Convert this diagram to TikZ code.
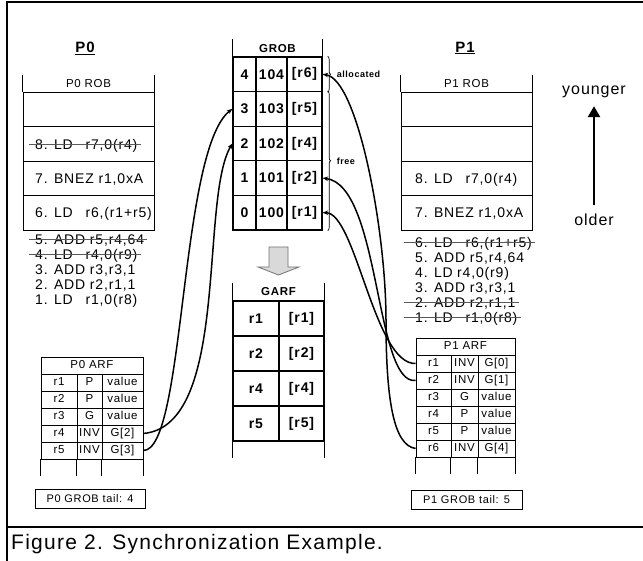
\documentclass[tikz,border=0pt]{standalone}
\usepackage{fontspec}
\setmainfont{Liberation Sans}[LetterSpace=6]
\usetikzlibrary{arrows.meta,decorations.pathreplacing}

\newcommand{\opc}[3][3.6em]{\makebox[#1][l]{#2}#3}

\begin{document}
\begin{tikzpicture}[x=1pt,y=-1pt,>={Stealth[length=5.5pt,width=4.5pt]},
    robrow/.style={draw,line width=0.9pt,minimum width=131pt,minimum height=34.5pt,inner sep=0pt},
    instr/.style={anchor=west,inner sep=0pt,text height=10pt,text depth=0pt,font=\fontsize{14}{16}\selectfont},
    cut/.style={black!65,line width=1pt},
    hdr/.style={inner sep=0pt,font=\fontsize{11.5}{13}\selectfont},
    arf/.style={draw,line width=0.8pt,minimum height=17pt,inner sep=0pt,text height=8pt,text depth=2.2pt,font=\fontsize{11.5}{13}\selectfont},
    gcell/.style={draw,line width=1.3pt,minimum height=34.6pt,inner sep=0pt,font=\bfseries\fontsize{14}{16}\selectfont},
    acell/.style={draw,line width=1.3pt,minimum height=35pt,inner sep=0pt,font=\bfseries\fontsize{14}{16}\selectfont},
    link/.style={->,line width=1.5pt},
    brace/.style={decorate,decoration={brace,amplitude=3pt},line width=0.7pt},
    note/.style={anchor=west,inner sep=0pt,font=\bfseries\fontsize{9}{10}\selectfont},
    tailbox/.style={draw,line width=0.8pt,minimum height=19pt,font=\fontsize{11}{12}\selectfont},
    title/.style={inner sep=0pt,font=\bfseries\fontsize{15}{17}\selectfont},
    age/.style={inner sep=0pt,font=\fontsize{16}{18}\selectfont}]

  \useasboundingbox (0,0) rectangle (643,561);
  % frame and caption
  \draw[line width=2.5pt] (643,2) -- (7,2) -- (7,561);
  \draw[line width=2.5pt] (7,527) -- (643,527);
  \node[anchor=west,inner sep=0pt,font=\fontsize{21}{24}\selectfont] (caption) at (11,544) {Figure 2. Synchronization Example.};

  % P0 side
  \node[title] (p0) at (85,48) {\underline{P0}};
  \foreach \k in {0,...,3}
    \node[robrow] (p0rob\k) at (88.5,{109.25+34.5*\k}) {};
  \draw[line width=0.9pt] (p0rob0.north west) -- +(0,-17) (p0rob0.north east) -- +(0,-17);
  \node[hdr] (p0robh) at (88.5,84) {P0 ROB};

  \node[instr] (p0i8) at (35,144.5) {\opc{8. LD}{r7,0(r4)}};
  \node[instr] (p0i7) at (35,179) {7. BNEZ r1,0xA};
  \node[instr] (p0i6) at (35,213) {\opc{6. LD}{r6,(r1+r5)}};
  \node[instr] (p0i5) at (35,240) {5. ADD r5,r4,64};
  \node[instr] (p0i4) at (35,255) {\opc{4. LD}{r4,0(r9)}};
  \node[instr] (p0i3) at (35,270) {3. ADD r3,r3,1};
  \node[instr] (p0i2) at (35,285) {2. ADD r2,r1,1};
  \node[instr] (p0i1) at (35,300) {\opc{1. LD}{r1,0(r8)}};
  \foreach \n in {p0i8,p0i5,p0i4}
    \draw[cut] ([xshift=-6pt]\n.west) -- ([xshift=3pt]\n.east);

  \node[arf,minimum width=102pt] (p0arf) at (92,365.5) {P0 ARF};
  \foreach \i/\s/\v in {1/P/value,2/P/value,3/G/value,4/INV/G[2],5/INV/G[3]} {
    \node[arf,minimum width=36pt] (p0r\i) at (59,{365.5+17*\i}) {r\i};
    \node[arf,minimum width=25pt] (p0s\i) at (89.5,{365.5+17*\i}) {\s};
    \node[arf,minimum width=41pt] (p0v\i) at (122.5,{365.5+17*\i}) {\v};
  }
  \draw[line width=0.8pt] (p0r5.south west) -- +(0,17) (p0s5.south west) -- +(0,17)
    (p0v5.south west) -- +(0,17) (p0v5.south east) -- +(0,17);
  \node[tailbox,minimum width=110pt] (p0tail) at (90,499) {P0 GROB tail: 4};

  % GROB
  \foreach \i/\r in {0/r1,1/r2,2/r4,3/r5,4/r6} {
    \node[gcell,minimum width=23pt] (gn\i) at (244.5,{212.7-34.6*\i}) {\i};
    \node[gcell,minimum width=31pt] (gv\i) at (271.5,{212.7-34.6*\i}) {10\i};
    \node[gcell,minimum width=35pt] (g\i) at (304.5,{212.7-34.6*\i}) {[\r]};
  }
  \draw[line width=1.3pt] (gn4.north west) -- +(0,-17) (g4.north east) -- +(0,-17);
  \node[hdr,font=\bfseries\fontsize{11.5}{13}\selectfont] (grob) at (277.5,49) {GROB};
  \draw[brace] ([xshift=5pt]g4.north east) -- ([xshift=5pt]g4.south east);
  \node[note] (alloc) at ([xshift=14pt]g4.east) {allocated};
  \draw[brace] ([xshift=5pt]g3.north east) -- ([xshift=5pt]g0.south east);
  \node[note] (free) at ([xshift=14pt]g2.south east) {free};

  \draw[fill=black!15,draw=black!55,line width=0.8pt] (269,247) -- (288,247) -- (288,267)
    -- (299,267) -- (278.5,275) -- (258,267) -- (269,267) -- cycle;

  % GARF
  \foreach \i/\r in {0/r1,1/r2,2/r4,3/r5} {
    \node[acell,minimum width=46pt] (ga\i) at (256,{318.5+35*\i}) {\r};
    \node[acell,minimum width=45pt] (gb\i) at (301.5,{318.5+35*\i}) {[\r]};
  }
  \draw[line width=1.3pt] (ga0.north west) -- +(0,-17) (gb0.north east) -- +(0,-17)
    (ga3.south west) -- +(0,16) (gb3.south east) -- +(0,16);
  \node[hdr,font=\bfseries\fontsize{11.5}{13}\selectfont] (garf) at (278.5,292) {GARF};

  % P1 side
  \node[title] (p1) at (465,48) {\underline{P1}};
  \foreach \k in {0,...,3}
    \node[robrow] (p1rob\k) at (466.5,{109.25+34.5*\k}) {};
  \draw[line width=0.9pt] (p1rob0.north west) -- +(0,-17) (p1rob0.north east) -- +(0,-17);
  \node[hdr] (p1robh) at (466.5,84) {P1 ROB};

  \node[instr] (p1i8) at (415,179) {\opc{8. LD}{r7,0(r4)}};
  \node[instr] (p1i7) at (415,213) {7. BNEZ r1,0xA};
  \node[instr] (p1i6) at (415,243) {\opc{6. LD}{r6,(r1+r5)}};
  \node[instr] (p1i5) at (415,258) {5. ADD r5,r4,64};
  \node[instr] (p1i4) at (415,273) {\opc[3em]{4. LD}{r4,0(r9)}};
  \node[instr] (p1i3) at (415,288) {3. ADD r3,r3,1};
  \node[instr] (p1i2) at (415,303) {2. ADD r2,r1,1};
  \node[instr] (p1i1) at (415,318) {\opc{1. LD}{r1,0(r8)}};
  \foreach \n in {p1i6,p1i2,p1i1}
    \draw[cut] ([xshift=-11pt]\n.west) -- ([xshift=3pt]\n.east);

  \node[arf,minimum width=99pt] (p1arf) at (465.5,346.5) {P1 ARF};
  \foreach \i/\s/\v in {1/INV/G[0],2/INV/G[1],3/G/value,4/P/value,5/P/value,6/INV/G[4]} {
    \node[arf,minimum width=35pt] (p1r\i) at (433.5,{346.5+17*\i}) {r\i};
    \node[arf,minimum width=27pt] (p1s\i) at (464.5,{346.5+17*\i}) {\s};
    \node[arf,minimum width=37pt] (p1v\i) at (496.5,{346.5+17*\i}) {\v};
  }
  \draw[line width=0.8pt] (p1r6.south west) -- +(0,17) (p1s6.south west) -- +(0,17)
    (p1v6.south west) -- +(0,17) (p1v6.south east) -- +(0,17);
  \node[tailbox,minimum width=111pt] (p1tail) at (466.5,499.5) {P1 GROB tail: 5};

  % ARF entries pointing into the GROB
  \draw[link] (p0v4.east) .. controls +(87,-8) and +(-33,56.5) .. (gn2.west);
  \draw[link] (p0v5.east) .. controls +(42,0) and +(-53,41) .. (gn3.west);
  \draw[link] (p1r1.west) .. controls +(-41,1.5) and +(33,0) .. (g0.east);
  \draw[link] (p1r2.west) .. controls +(-41,4.5) and +(58,7) .. (g1.east);
  \coordinate (bend6) at (386,320);
  \draw[link] (p1r6.west) .. controls +(-22,-3) and +(0,80) .. (bend6)
    .. controls +(0,-90) and +(35,5) .. (g4.east);

  % age arrow
  \node[age] (young) at (594,92) {younger};
  \node[age] (old) at (594,220) {older};
  \draw[line width=2.4pt,-{Triangle[length=11pt,width=12pt]},shorten <=9pt,shorten >=8pt] (old) -- (young);
\end{tikzpicture}
\end{document}
